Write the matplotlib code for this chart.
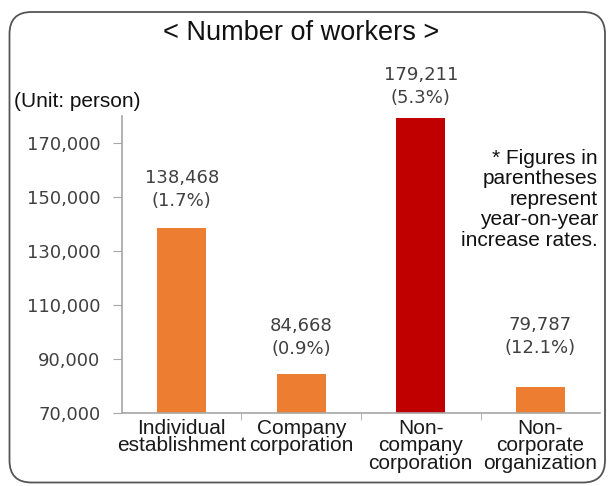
import matplotlib
matplotlib.use('Agg')
import matplotlib.pyplot as plt
from matplotlib.patches import FancyBboxPatch
from matplotlib.ticker import FuncFormatter

categories = ["Individual\nestablishment", "Company\ncorporation",
              "Non-\ncompany\ncorporation", "Non-\ncorporate\norganization"]
workers = [138468, 84668, 179211, 79787]
growth = ["1.7%", "0.9%", "5.3%", "12.1%"]
y_ticks = [70000, 90000, 110000, 130000, 150000, 170000]

bar_colors = ["#ED7D31", "#ED7D31", "#C00000", "#ED7D31"]
# pixel offsets of the two label lines above each bar top
label_offsets = [50, 48, 43, 62]

fig = plt.figure(figsize=(6.09, 4.86), dpi=100)

# rounded frame around the whole chart (inches)
frame = FancyBboxPatch((0.095, 0.035), 5.955, 4.705,
                       boxstyle="round,pad=0,rounding_size=0.22",
                       transform=fig.dpi_scale_trans, facecolor="white",
                       edgecolor="#555555", linewidth=1.3, zorder=-5)
fig.patches.append(frame)

ax = fig.add_axes([0.2003, 0.150, 0.785, 0.611])
ax.patch.set_alpha(0)
ax.set_zorder(2)

x = range(len(categories))
ax.bar(x, workers, width=0.41, color=bar_colors, zorder=2)

ax.set_xlim(-0.5, 3.5)
ax.set_ylim(70000, 180000)
ax.set_yticks(y_ticks)
ax.yaxis.set_major_formatter(FuncFormatter(lambda v, p: f"{int(v):,}"))

for s in ["top", "right"]:
    ax.spines[s].set_visible(False)
for s in ["left", "bottom"]:
    ax.spines[s].set_color("#A6A6A6")
    ax.spines[s].set_linewidth(1.2)

ax.tick_params(axis="y", direction="out", length=6.5, color="#A6A6A6",
               labelsize=13, labelcolor="#404040", pad=9)
ax.set_yticklabels([f"{v:,}" for v in y_ticks], family="DejaVu Sans")

# category labels centered, tick marks between categories
ax.set_xticks(list(x))
ax.set_xticklabels(categories, family="Liberation Sans", fontsize=15,
                   color="#1a1a1a", linespacing=0.92)
ax.tick_params(axis="x", length=0, pad=4)
ax.set_xticks([0.5, 1.5, 2.5], minor=True)
ax.tick_params(axis="x", which="minor", direction="out", length=5,
               color="#A6A6A6")

for i, (v, g) in enumerate(zip(workers, growth)):
    off = label_offsets[i]
    ax.annotate(f"{v:,}", (i, v), xytext=(0, off), textcoords="offset pixels",
                ha="center", va="center", fontsize=13, color="#404040",
                family="DejaVu Sans")
    ax.annotate(f"({g})", (i, v), xytext=(0, off - 23),
                textcoords="offset pixels", ha="center", va="center",
                fontsize=13, color="#404040", family="DejaVu Sans")

fig.text(0.494, 0.932, "< Number of workers >", ha="center", va="center",
         fontsize=19.5, family="Liberation Sans", color="#111111")
fig.text(0.023, 0.792, "(Unit: person)", ha="left", va="center",
         fontsize=15, family="Liberation Sans", color="#111111")
fig.text(0.982, 0.590,
         "* Figures in\nparentheses\nrepresent\nyear-on-year\nincrease rates.",
         ha="right", va="center", fontsize=15, family="Liberation Sans",
         color="#111111", linespacing=1.1, multialignment="right")

plt.savefig("out.png", dpi=100)
plt.close()
